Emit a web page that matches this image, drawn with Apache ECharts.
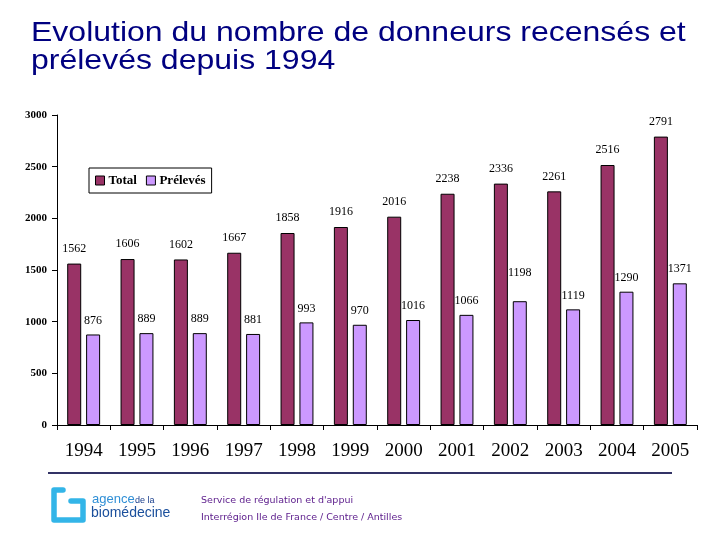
<!DOCTYPE html>
<html><head><meta charset="utf-8">
<script src="https://cdn.jsdelivr.net/npm/echarts@6/dist/echarts.min.js"></script>
<style>html,body{margin:0;padding:0;background:#fff}#c{width:720px;height:540px}</style>
</head><body><div id="c"></div>
<script>
const years = ['1994','1995','1996','1997','1998','1999','2000','2001','2002','2003','2004','2005'];
const total = [1562,1606,1602,1667,1858,1916,2016,2238,2336,2261,2516,2791];
const preleves = [876,889,889,881,993,970,1016,1066,1198,1119,1290,1371];
const yTicks = [0,500,1000,1500,2000,2500,3000];
const titleLines = ['Evolution du nombre de donneurs recensés et','prélevés depuis 1994'];

const chart = echarts.init(document.getElementById('c'));
const serif = '"Liberation Serif","DejaVu Serif",serif';
const sans = '"Liberation Sans",Arial,sans-serif';
chart.setOption({
  animation:false,
  backgroundColor:'#fff',
  legend:{
    left:89, top:168, itemWidth:9, itemHeight:9, itemGap:9,
    padding:[6,6,6,6], borderColor:'#000', borderWidth:1,
    textStyle:{fontFamily:serif,fontSize:13,fontWeight:'bold',color:'#000',padding:[0,0,0,-1]},
    data:[{name:'Total',icon:'rect',itemStyle:{borderColor:'#000',borderWidth:1}},{name:'Prélevés',icon:'rect',itemStyle:{borderColor:'#000',borderWidth:1}}]
  },
  grid:{left:57,right:23,top:115,bottom:115,containLabel:false},
  xAxis:{
    type:'category', data:years,
    axisLine:{lineStyle:{color:'#000',width:1}},
    axisTick:{show:true,length:5,lineStyle:{color:'#000'}},
    axisLabel:{fontFamily:serif,fontSize:19,color:'#000',margin:17}
  },
  yAxis:{
    type:'value', min:yTicks[0], max:yTicks[yTicks.length-1], interval:500,
    axisLine:{show:true,lineStyle:{color:'#000',width:1}},
    axisTick:{show:true,length:5,lineStyle:{color:'#000'}},
    splitLine:{show:false},
    axisLabel:{fontFamily:serif,fontSize:11,fontWeight:'bold',color:'#000',margin:10,formatter:v=>String(v)}
  },
  series:[
    {name:'Total',type:'bar',data:total,barWidth:14,barGap:'35%',
     itemStyle:{color:'#993366',borderColor:'#000',borderWidth:1},
     label:{show:true,position:'top',distance:9,fontFamily:serif,fontSize:12,color:'#000'}},
    {name:'Prélevés',type:'bar',
     data:preleves.map((v,i)=> years[i]==='2002' ? {value:v,label:{distance:22}} : v),
     barWidth:14,
     itemStyle:{color:'#CC99FF',borderColor:'#000',borderWidth:1},
     label:{show:true,position:'top',distance:8,fontFamily:serif,fontSize:12,color:'#000'}}
  ],
  graphic:[
    {type:'text',x:31,y:19,scaleX:1.143,style:{text:titleLines[0],font:'28px '+sans,fill:'#000080',verticalAlign:'top'}},
    {type:'text',x:31,y:47,scaleX:1.143,style:{text:titleLines[1],font:'28px '+sans,fill:'#000080',verticalAlign:'top'}},
    {type:'line',shape:{x1:48,y1:473,x2:672,y2:473},style:{stroke:'#333366',lineWidth:2}},
    {type:'polyline',shape:{points:[[63,490],[54,490],[54,520],[83,520],[83,501],[71,501]]},
     style:{stroke:'#33b5e8',lineWidth:5.5,fill:null,lineJoin:'round',lineCap:'round'}},
    {type:'text',x:92,y:493,style:{text:'agence',font:'13px '+sans,fill:'#2f8fd6',verticalAlign:'top'}},
    {type:'text',x:135,y:496,style:{text:'de la',font:'9px '+sans,fill:'#1a3f8c',verticalAlign:'top'}},
    {type:'text',x:91,y:506,style:{text:'biomédecine',font:'14px '+sans,fill:'#1a4f9c',verticalAlign:'top'}},
    {type:'text',x:201,y:496,style:{text:'Service de régulation et d\'appui',font:'9.5px "DejaVu Sans",sans-serif',fill:'#5a1a8a'}},
    {type:'text',x:201,y:513,style:{text:'Interrégion Ile de France / Centre / Antilles',font:'9.5px "DejaVu Sans",sans-serif',fill:'#5a1a8a'}}
  ]
});
</script></body></html>
